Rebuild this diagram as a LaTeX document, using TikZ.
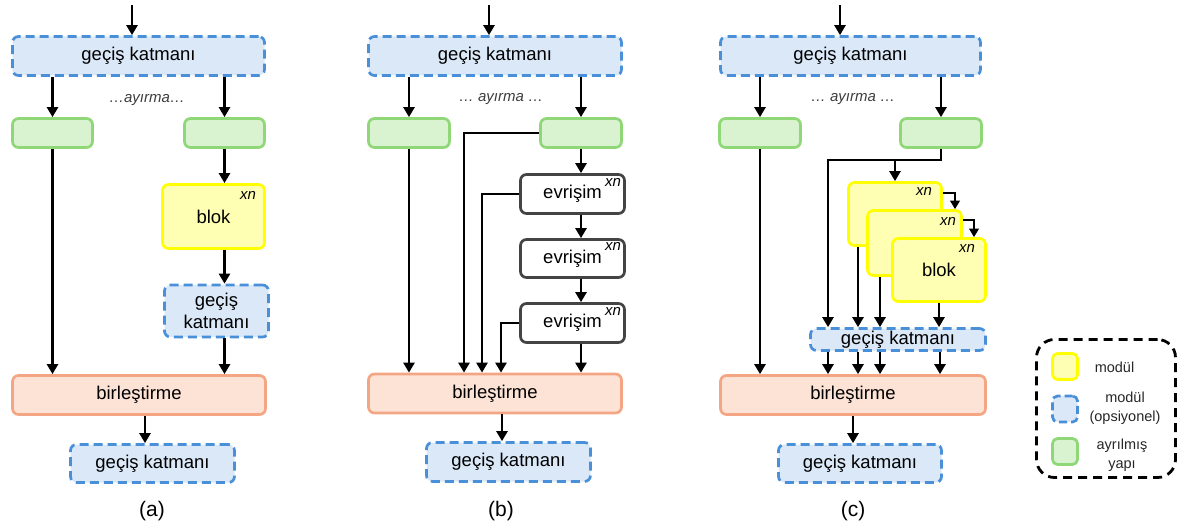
\documentclass[tikz,border=0pt]{standalone}
\usepackage{fontspec}
\setmainfont{Liberation Sans}
\usetikzlibrary{arrows.meta}

\definecolor{optDraw}{HTML}{4A90D9}
\definecolor{optFill}{HTML}{DAE8F8}
\definecolor{sepDraw}{HTML}{8FD777}
\definecolor{sepFill}{HTML}{D9F2D0}
\definecolor{modDraw}{HTML}{FFFF00}
\definecolor{modFill}{HTML}{FFFFB3}
\definecolor{mrgDraw}{HTML}{F4A684}
\definecolor{mrgFill}{HTML}{FCE3D6}
\definecolor{cnvDraw}{HTML}{444444}
\definecolor{noteGray}{HTML}{3C3C3C}

\begin{document}
\begin{tikzpicture}[x=1pt,y=-1pt,
  box/.style={rectangle, rounded corners=6pt, line width=2.7pt, inner sep=0pt,
    font=\fontsize{18.5}{22}\selectfont, align=center},
  opt/.style={box, draw=optDraw, fill=optFill, dash pattern=on 9pt off 5pt},
  sepbox/.style={box, draw=sepDraw, fill=sepFill},
  modbox/.style={box, draw=modDraw, fill=modFill},
  mrgbox/.style={box, draw=mrgDraw, fill=mrgFill},
  cnvbox/.style={box, draw=cnvDraw, fill=white},
  sz/.style 2 args={minimum width=#1, minimum height=#2},
  arr/.style={line width=2.8pt, -{Triangle[length=10pt,width=11pt]}},
  sarr/.style={line width=2.6pt, -{Triangle[length=8.5pt,width=9.5pt]}},
  xnlab/.style={inner sep=0pt, font=\fontsize{15}{17}\selectfont\itshape},
  splitlab/.style={inner sep=0pt, text=noteGray, font=\fontsize{15}{17}\selectfont\itshape},
  panellab/.style={inner sep=0pt, font=\fontsize{21}{24}\selectfont},
  legtxt/.style={inner sep=0pt, align=center, text=black!85, font=\fontsize{14.5}{19.5}\selectfont},
  legsq/.style={rectangle, rounded corners=5pt, line width=2.7pt, minimum width=25, minimum height=26},
]
\useasboundingbox (0,0) rectangle (1182,526);

% ---------------- (a) ----------------
\coordinate (ina) at (132,5);
\node[opt, sz={252}{39}] (ta) at (138.5,56) {geçiş katmanı};
\node[splitlab] (spa) at (147,100) {…ayırma…};
\node[sepbox, sz={80}{29}] (ga1) at (52.5,133) {};
\node[sepbox, sz={80}{29}] (ga2) at (224.5,133) {};
\node[modbox, sz={102}{64}] (bla) at (213.5,216.5) {blok};
\node[xnlab] (xa) at (248,195) {xn};
\node[opt, sz={104}{52}] (gma) at (216.5,311) {geçiş\\katmanı};
\node[mrgbox, sz={253}{39}] (ba) at (139,395) {birleştirme};
\node[opt, sz={164}{38}] (boa) at (152.5,463.5) {geçiş katmanı};
\node[panellab] (la) at (152,511) {(a)};
\coordinate (ma) at (145,0);

\draw[arr] (ina) -- (ina |- ta.north);
\draw[arr] (ga1 |- ta.south) -- (ga1.north);
\draw[arr] (ga2 |- ta.south) -- (ga2.north);
\draw[arr] (ga1.south) -- (ga1 |- ba.north);
\draw[arr] (ga2.south) -- (ga2 |- bla.north);
\draw[arr] (ga2 |- bla.south) -- (ga2 |- gma.north);
\draw[arr] (ga2 |- gma.south) -- (ga2 |- ba.north);
\draw[arr] (ma |- ba.south) -- (ma |- boa.north);

% ---------------- (b) ----------------
\coordinate (inb) at (489,5);
\node[opt, sz={253}{39}] (tb) at (495,56) {geçiş katmanı};
\node[splitlab] (spb) at (501,99) {… ayırma …};
\node[sepbox, sz={81}{29}] (gb1) at (409,133) {};
\node[sepbox, sz={81}{29}] (gb2) at (581,133) {};
\node[cnvbox, sz={104}{39}] (e1) at (572.5,194) {evrişim};
\node[cnvbox, sz={104}{38}] (e2) at (572.5,258.5) {evrişim};
\node[cnvbox, sz={104}{39}] (e3) at (572.5,323) {evrişim};
\node[xnlab] (xb1) at (613,182) {xn};
\node[xnlab] (xb2) at (613,246) {xn};
\node[xnlab] (xb3) at (613,311) {xn};
\node[mrgbox, sz={253}{39}] (bb) at (495,393.5) {birleştirme};
\node[opt, sz={164}{39}] (bob) at (508.5,462) {geçiş katmanı};
\node[panellab] (lb) at (501,511) {(b)};
\coordinate (kb1) at (464,0);
\coordinate (kb2) at (482,0);
\coordinate (kb3) at (501,0);
\coordinate (mb) at (502,0);

\draw[arr] (inb) -- (inb |- tb.north);
\draw[arr] (gb1 |- tb.south) -- (gb1.north);
\draw[arr] (gb2 |- tb.south) -- (gb2.north);
\draw[arr] (gb1.south) -- (gb1 |- bb.north);
\draw[arr] (gb2.south) -- (gb2 |- e1.north);
\draw[arr] (gb2 |- e1.south) -- (gb2 |- e2.north);
\draw[arr] (gb2 |- e2.south) -- (gb2 |- e3.north);
\draw[arr] (gb2 |- e3.south) -- (gb2 |- bb.north);
\draw[arr] (gb2.west) -| (kb1 |- bb.north);
\draw[arr] (e1.west) -| (kb2 |- bb.north);
\draw[arr] (e3.west) -| (kb3 |- bb.north);
\draw[arr] (mb |- bb.south) -- (mb |- bob.north);

% ---------------- (c) ----------------
\coordinate (inc) at (840,5);
\node[opt, sz={260}{39}] (tc) at (850.5,56) {geçiş katmanı};
\node[splitlab] (spc) at (853,99) {… ayırma …};
\node[sepbox, sz={81}{29}] (gc1) at (760,133) {};
\node[sepbox, sz={81}{29}] (gc2) at (941,133) {};
\node[modbox, sz={93}{63}] (b1) at (895,214) {};
\node[modbox, sz={94}{65}] (b2) at (914.5,243) {};
\node[modbox, sz={93}{63}] (b3) at (939,270) {blok};
\node[xnlab] (xc1) at (924,191) {xn};
\node[xnlab] (xc2) at (948,221) {xn};
\node[xnlab] (xc3) at (967,248) {xn};
\node[opt, sz={175}{22}] (gkc) at (898,339.5) {geçiş katmanı};
\node[mrgbox, sz={265}{39}] (bc) at (853,395) {birleştirme};
\node[opt, sz={163}{38}] (boc) at (860,463.5) {geçiş katmanı};
\node[panellab] (lc) at (853,511) {(c)};
\coordinate (kc) at (828,160);
\coordinate (s1) at (955,193);
\coordinate (s2) at (974,220);
\coordinate (d1) at (858,0);
\coordinate (d2) at (880,0);
\coordinate (d3) at (939,0);
\coordinate (d4) at (940,0);
\coordinate (mc) at (853,0);

\draw[arr] (inc) -- (inc |- tc.north);
\draw[arr] (gc1 |- tc.south) -- (gc1.north);
\draw[arr] (gc2 |- tc.south) -- (gc2.north);
\draw[arr] (gc1.south) -- (gc1 |- bc.north);
\draw[arr] (gc2.south) |- (kc) -- (kc |- gkc.north);
\draw[arr] (b1 |- kc) -- (b1.north);
\draw[sarr] (b1.east |- s1) -- (s1) -- (s1 |- b2.north);
\draw[sarr] (b2.east |- s2) -- (s2) -- (s2 |- b3.north);
\draw[arr] (d1 |- b1.south) -- (d1 |- gkc.north);
\draw[arr] (d2 |- b2.south) -- (d2 |- gkc.north);
\draw[arr] (d3 |- b3.south) -- (d3 |- gkc.north);
\draw[arr] (kc |- gkc.south) -- (kc |- bc.north);
\draw[arr] (d1 |- gkc.south) -- (d1 |- bc.north);
\draw[arr] (d2 |- gkc.south) -- (d2 |- bc.north);
\draw[arr] (d4 |- gkc.south) -- (d4 |- bc.north);
\draw[arr] (mc |- bc.south) -- (mc |- boc.north);

% ---------------- legend ----------------
\node[draw=black, line width=2.8pt, dash pattern=on 9pt off 6pt, rounded corners=18pt,
      minimum width=139, minimum height=138, inner sep=0pt] (leg) at (1106,408.5) {};
\node[legsq, draw=modDraw, fill=modFill] (lq1) at (1065,366.5) {};
\node[legsq, draw=optDraw, fill=optFill, dash pattern=on 8pt off 4pt] (lq2) at (1065,409) {};
\node[legsq, draw=sepDraw, fill=sepFill] (lq3) at (1065,451.5) {};
\node[legtxt] (lt1) at (1114.5,367) {modül};
\node[legtxt] (lt2) at (1125,408) {modül\\(opsiyonel)};
\node[legtxt] (lt3) at (1122,455) {ayrılmış\\yapı};
\end{tikzpicture}
\end{document}
